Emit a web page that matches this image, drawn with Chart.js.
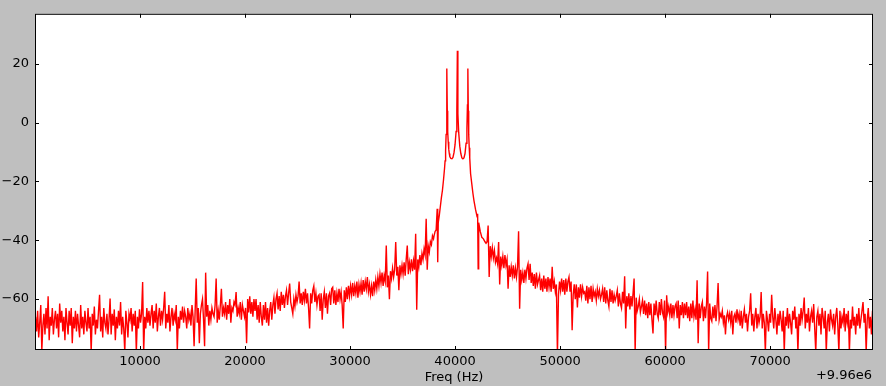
<!DOCTYPE html>
<html>
<head>
<meta charset="utf-8">
<script src="https://cdn.jsdelivr.net/npm/chart.js@4.4.1/dist/chart.umd.min.js"></script>
<style>
  html, body { margin: 0; padding: 0; background: #bfbfbf; }
  canvas { display: block; }
</style>
</head>
<body>
<canvas id="spectrumChart" width="886" height="386"></canvas>
<script>
const CHART_ID = 'spectrumChart';
const FREQ_OFFSET_LABEL = '+9.96e6';
const FONT = '"DejaVu Sans", sans-serif';

// Level (dB) below the carrier, one reading every 100 Hz (one row per kHz)
const lowStart = 50;
const lowStep = 100;
const lowLevels = [
  -66, -71, -64, -73, -68, -62, -77.5, -69, -65, -72,
  -63, -70, -59, -74, -66, -69, -63, -72, -67, -64,
  -70, -65, -73, -61.5, -68, -64, -71, -66, -74, -63,
  -68, -72, -64, -69, -63, -75, -66, -70, -64, -71,
  -65, -69, -73, -62, -70, -66, -72, -64, -68, -71,
  -63, -70, -66, -78, -65, -69, -62.5, -72, -67, -70,
  -64, -58.5, -71, -66, -73, -63, -68, -70, -65, -72,
  -67, -59.8, -72, -65, -69, -63.5, -74, -66, -70, -64,
  -69, -61, -72, -66, -70, -78, -64, -68, -73, -65,
  -67, -63, -71, -65, -69, -64, -78, -66, -70, -63.5,
  -68, -65, -54.2, -78, -66, -70, -63, -68, -64, -69,
  -65, -62, -70, -64, -68, -61.5, -71, -66, -63, -69,
  -64, -67, -63, -57.5, -70, -65, -68, -62, -71, -66,
  -63, -69, -65, -67, -62, -77.5, -66, -70, -64, -67,
  -62.5, -68, -64, -66, -70, -63, -67, -65, -69, -62,
  -66, -76, -64, -53, -68, -63, -75, -65, -62, -60,
  -67, -76, -51, -66, -62, -69, -64, -67, -63, -65,
  -66, -62, -53, -68, -64, -67, -62, -56.5, -66, -63,
  -65, -61, -67, -62, -65, -60, -68, -63, -64, -61,
  -62, -57.6, -66, -63, -65, -61, -67, -62, -64, -66,
  -63, -75, -60, -64.5, -59, -65, -61, -66, -60, -64,
  -60, -67, -62, -68, -61, -66, -69, -62, -67, -61,
  -68, -63, -69, -64, -61, -67, -62, -59.5, -65, -60,
  -58, -63.5, -59, -64, -57.5, -62, -58.5, -63, -59, -57,
  -62, -58, -54.7, -61, -63, -65, -60, -62.5, -58.5, -61,
  -59, -54, -61.5, -58, -62, -57.5, -60.5, -56.5, -61.5, -58,
  -63, -70, -58, -61.5, -57, -55.5, -61, -58, -62, -59,
  -58.5, -64, -58, -67, -60, -57.5, -63, -58, -65, -59,
  -58, -62, -56.5, -56, -61.5, -57, -62, -58, -61, -56.5,
  -60, -57.5, -62, -70, -57, -61, -56, -60, -55.5, -59,
  -55.5, -58.5, -54.5, -59, -55.5, -58, -54, -59.5, -55, -57.5,
  -54.5, -58.5, -53.5, -57.5, -54, -56.5, -52.5, -57.5, -55, -58.5,
  -55.5, -59, -54, -57, -53.5, -56.5, -52.5, -55.5, -51.5, -54.5,
  -51, -55.5, -52, -54, -41.8, -56, -52, -60, -50.5, -53,
  -49.5, -52.5, -50, -40.6, -52, -49, -57, -48.5, -51.5, -48.5,
  -51.5, -47.5, -52, -46.5, -41.8, -51.5, -47.5, -50, -46.5, -50.5,
  -47, -50, -37.8, -63.6, -46.5, -49, -45, -48.5, -44.5, -46.5,
  -43, -45, -32.7, -50, -42, -44, -40.5, -41.5, -38.5, -39.5
];

// The three carrier peaks, read more finely
const peakFreqs = [
  38000, 38100, 38200, 38300, 38350, 38400, 38500, 38600, 38700, 38800,
  38900, 39000, 39050, 39100, 39150, 39200, 39230, 39260, 39300, 39350,
  39400, 39450, 39500, 39600, 39700, 39800, 39900, 40000, 40100, 40170,
  40220, 40270, 40350, 40450, 40550, 40650, 40750, 40850, 40950, 41050,
  41130, 41180, 41220, 41260, 41300, 41350, 41400, 41480, 41600, 41700,
  41800, 41950, 42100, 42150, 42200, 42250, 42400, 42550, 42700, 42850,
  42950
];
const peakLevels = [
  -38.5, -37, -36.5, -29.3, -47.5, -34, -31.5, -28.5, -25.5, -23,
  -19.5, -15.5, -13, -9.5, -4, 6, 18.4, 4, -3, -6.5,
  -9, -10.5, -11.5, -12.2, -12.3, -11.8, -10.2, -7.5, -3, 4,
  24.4, 3, -3.5, -8, -10.5, -12, -12.3, -12, -10.5, -7,
  -2, 6, 18.4, 4, -4, -8.5, -12, -17.4, -21, -24,
  -26.5, -29.5, -32, -31, -49.7, -34, -37, -39, -39.5, -40.5,
  -41
];

// Level (dB) above the carrier, one reading every 100 Hz (one row per kHz)
const highStart = 43050;
const highStep = 100;
const highLevels = [
  -40.5, -35, -52.5, -42, -45.5, -42.5, -46, -43.5, -47.5, -46,
  -48, -40.6, -55, -45.5, -48.5, -45.5, -49.5, -45, -48.5, -46.5,
  -56.5, -48.5, -52.5, -49, -52, -48.5, -53, -49.5, -52.5, -49,
  -36.9, -63.3, -50, -53.5, -51, -54.5, -50, -53, -49.5, -48,
  -53.5, -48, -54.5, -51, -55.5, -51.5, -56.5, -51, -55, -53.5,
  -52, -57, -53, -57.5, -52, -56.5, -53, -57.5, -52.5, -56,
  -53, -57.5, -49, -56.5, -54, -57.5, -55, -79, -58.5, -54,
  -57, -53, -57.5, -53.5, -58.5, -53, -57.5, -54, -52.5, -57.5,
  -54, -70.6, -58.5, -55, -60, -55, -62.8, -56, -59.5, -55,
  -59, -56, -58, -57.5, -60.5, -55.5, -61.5, -56, -60, -55.5,
  -61, -56.5, -59, -57.5, -60.5, -56.5, -59, -57, -60, -58.5,
  -56.5, -61, -56, -61.5, -57, -60.5, -62.5, -56.5, -61, -57,
  -61.5, -58.5, -60.5, -59, -57, -62.5, -58, -61.5, -63, -57.5,
  -61.5, -52.2, -70, -59, -62.5, -58, -63.5, -59, -62.5, -58,
  -53, -78, -59.5, -64, -62.5, -60, -64.5, -62.5, -60.5, -65,
  -60.5, -65.5, -61.5, -66.5, -61, -65.5, -61.5, -67, -71.7, -61.5,
  -65.5, -60.5, -65, -66.5, -61, -65.5, -60, -64.5, -66, -60.5,
  -78, -58.7, -64.5, -62.5, -65.5, -61.5, -66.5, -62, -65.5, -62.5,
  -61.5, -66.5, -60.5, -70, -62, -65.5, -61, -66.5, -61.5, -65.5,
  -61, -66.5, -62.5, -67.5, -61.5, -66.5, -60.5, -66, -63.5, -67,
  -53.6, -75, -61.5, -66.5, -62.5, -61, -67.5, -62.5, -66.5, -61.5,
  -50.6, -78, -61.5, -66.5, -67.5, -62.5, -66.5, -62, -67.5, -62.5,
  -54.5, -67, -65, -66, -64, -68, -65.5, -72, -66, -64.5,
  -67, -65, -68, -64, -72, -66, -65, -68, -63.5, -67,
  -65, -69, -64, -70, -66, -63.5, -68, -65, -71, -66,
  -64, -58, -69, -65, -71, -66, -63, -70, -65, -68,
  -66, -57.6, -70, -65, -68, -78, -64, -67, -71, -65,
  -68, -58.5, -66, -70, -63, -67, -72, -65, -69, -64,
  -67, -71, -64, -78, -66, -69, -63, -70, -65, -68,
  -72, -64, -67, -62.5, -70, -66, -78, -65, -69, -63,
  -67, -64, -59.5, -70, -65, -68, -63, -71, -66, -64,
  -68, -61.7, -70, -78, -66, -64, -69, -65, -72, -63,
  -66, -70, -64, -78, -68, -65, -71, -63.5, -67, -69,
  -65, -72, -66, -63, -69, -78, -64, -70, -66, -68,
  -63, -71, -65, -68, -64, -78, -67, -70, -62.5, -69,
  -66, -72, -65, -69, -63, -70, -67, -64, -61, -68,
  -65, -78, -67, -63, -70, -66, -72, -64, -68
];

const xTicks = [10000, 20000, 30000, 40000, 50000, 60000, 70000];
const yTicks = [-60, -40, -20, 0, 20];

const toPoints = (start, step, levels) =>
  levels.map((y, i) => ({ x: start + i * step, y }));

const points = [
  ...toPoints(lowStart, lowStep, lowLevels),
  ...peakFreqs.map((x, i) => ({ x, y: peakLevels[i] })),
  ...toPoints(highStart, highStep, highLevels)
];

const formatTick = (v) => (v < 0 ? '\u2212' + Math.abs(v) : String(v));

// white axes box, inward ticks on all sides, offset text
const frame = {
  id: 'frame',
  beforeDraw(chart) {
    const { ctx, chartArea: a } = chart;
    ctx.save();
    ctx.fillStyle = '#ffffff';
    ctx.fillRect(a.left, a.top, a.right - a.left, a.bottom - a.top);
    ctx.restore();
  },
  afterDraw(chart) {
    const { ctx, chartArea: a, scales } = chart;
    ctx.save();
    ctx.strokeStyle = '#000';
    ctx.lineWidth = 1;
    ctx.beginPath();
    scales.x.ticks.forEach(t => {
      const px = Math.round(scales.x.getPixelForValue(t.value)) + 0.5;
      ctx.moveTo(px, a.bottom); ctx.lineTo(px, a.bottom - 4);
      ctx.moveTo(px, a.top); ctx.lineTo(px, a.top + 4);
    });
    scales.y.ticks.forEach(t => {
      const py = Math.round(scales.y.getPixelForValue(t.value)) + 0.5;
      ctx.moveTo(a.left, py); ctx.lineTo(a.left + 4, py);
      ctx.moveTo(a.right, py); ctx.lineTo(a.right - 4, py);
    });
    ctx.stroke();
    ctx.strokeRect(a.left + 0.5, a.top + 0.5, a.right - a.left - 1, a.bottom - a.top - 1);

    ctx.fillStyle = '#000';
    ctx.font = '13px ' + FONT;
    ctx.textAlign = 'right';
    ctx.textBaseline = 'middle';
    ctx.fillText(FREQ_OFFSET_LABEL, a.right - 1, 376);
    ctx.restore();
  }
};

const config = {
  type: 'line',
  data: {
    datasets: [{
      data: points,
      borderColor: '#ff0000',
      borderWidth: 1.4,
      pointRadius: 0,
      tension: 0,
      fill: false
    }]
  },
  options: {
    responsive: false,
    animation: false,
    events: [],
    layout: { padding: { top: 13, right: 13, left: 0, bottom: 0 } },
    plugins: { legend: { display: false }, tooltip: { enabled: false } },
    scales: {
      x: {
        type: 'linear',
        min: 0,
        max: 79800,
        afterBuildTicks: (s) => { s.ticks = xTicks.map(v => ({ value: v })); },
        afterFit: (s) => { s.height = 36; },
        grid: { display: false, drawTicks: false },
        border: { display: false },
        ticks: {
          padding: 4,
          maxRotation: 0,
          autoSkip: false,
          color: '#000',
          font: { family: FONT, size: 13 },
          callback: formatTick
        },
        title: {
          display: true,
          text: 'Freq (Hz)',
          color: '#000',
          font: { family: FONT, size: 13 },
          padding: { top: 0, bottom: 1 }
        }
      },
      y: {
        type: 'linear',
        min: -77.3,
        max: 37,
        afterBuildTicks: (s) => { s.ticks = yTicks.map(v => ({ value: v })); },
        afterFit: (s) => { s.width = 35; },
        grid: { display: false, drawTicks: false },
        border: { display: false },
        ticks: {
          padding: 6,
          autoSkip: false,
          color: '#000',
          font: { family: FONT, size: 13 },
          callback: formatTick
        }
      }
    }
  },
  plugins: [frame]
};

window.onload = () => {
  new Chart(document.getElementById(CHART_ID), config);
};
</script>
</body>
</html>
